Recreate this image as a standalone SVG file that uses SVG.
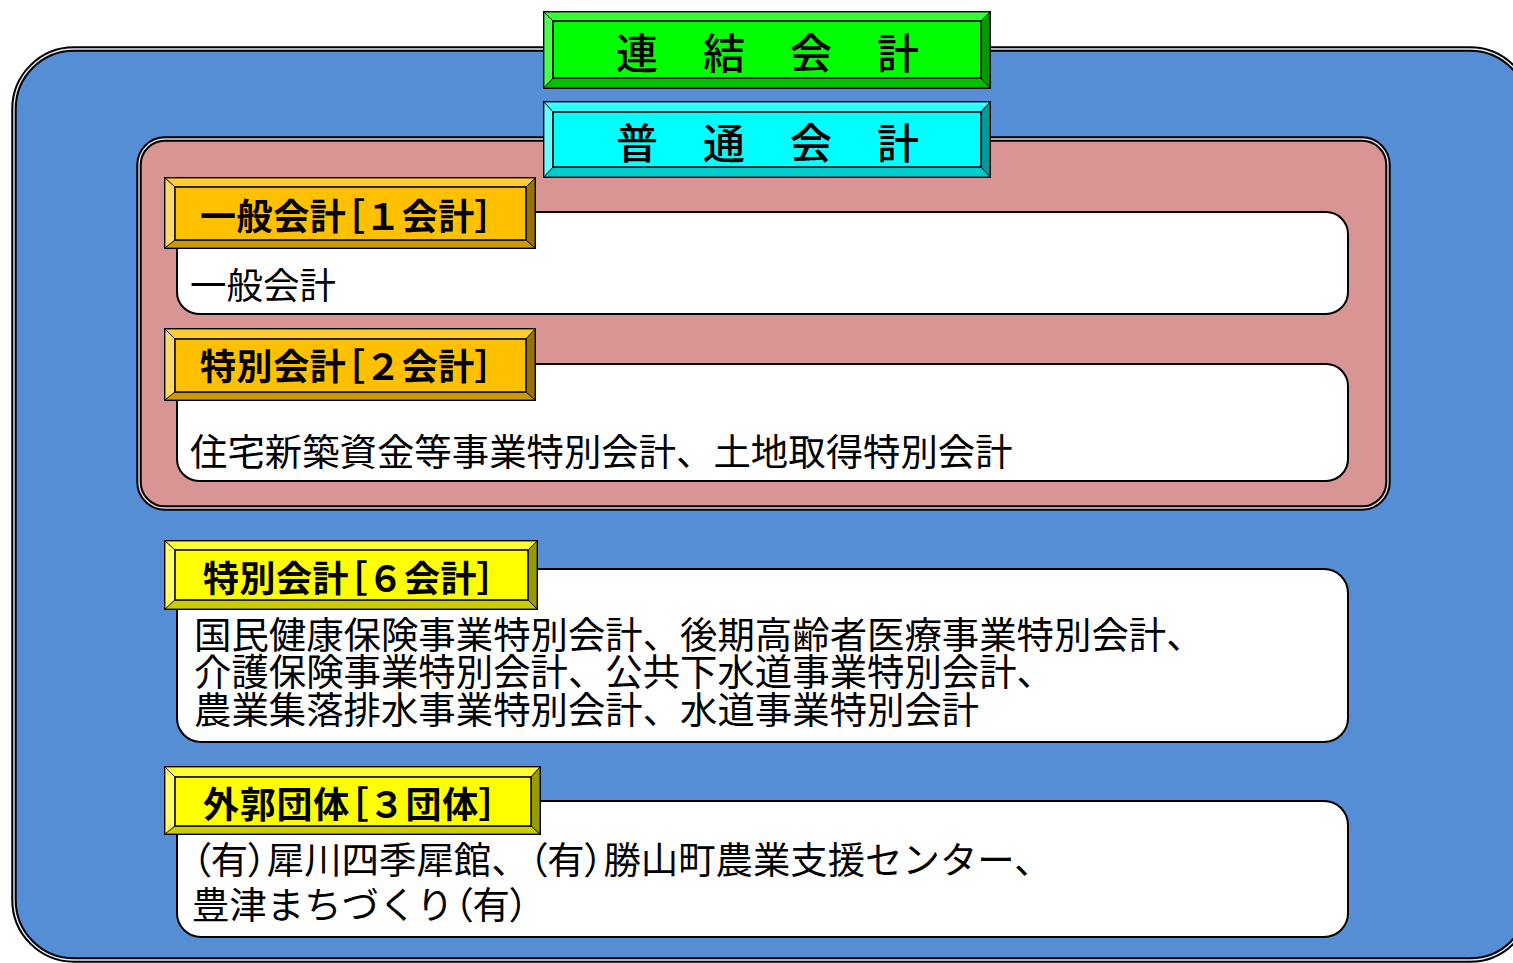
<svg xmlns="http://www.w3.org/2000/svg" width="1513" height="963" viewBox="0 0 1513 963">
<style>
.dbl{stroke:#000;stroke-width:5.5}
.dbl2{fill:none;stroke:#e4ecf7;stroke-width:1.4}
.wbox{fill:#fff;stroke:#000;stroke-width:2}
.outer{stroke:#000;stroke-width:2}
.inner{stroke:#000;stroke-width:1.5}
.bev{stroke:#000;stroke-width:0.8}
.hdr{font-family:"Noto Sans CJK JP","Noto Sans CJK SC",sans-serif;font-size:42px;font-weight:500;letter-spacing:1.5px;fill:#000}
.lbl{font-family:"Noto Sans CJK JP","Noto Sans CJK SC",sans-serif;font-size:36px;font-weight:700;fill:#000}
.txt{font-family:"Noto Sans CJK JP","Noto Sans CJK SC",sans-serif;font-size:37.4px;font-weight:400;fill:#000}
.p{font-feature-settings:"palt"}
</style>
<rect width="1513" height="963" fill="#fff"/>
<g id="consolidated">
<rect class="dbl" x="14" y="49" width="1516" height="911" rx="60" fill="#558ed5"/>
<rect class="dbl2" x="14" y="49" width="1516" height="911" rx="60"/>
</g>
<g id="general">
<rect class="dbl" x="139" y="139" width="1249" height="369" rx="26" fill="#d99594"/>
<rect class="dbl2" x="139" y="139" width="1249" height="369" rx="26" style="stroke:#f0d8d8"/>
</g>
<g id="box1">
<rect class="wbox" x="177" y="212" width="1171" height="102" rx="22"/>
<text class="txt" x="190" y="299" style="font-size:36.5px">一般会計</text>
</g>
<g id="box2">
<rect class="wbox" x="177" y="364" width="1171" height="117" rx="22"/>
<text class="txt" x="190" y="466">住宅新築資金等事業特別会計、土地取得特別会計</text>
</g>
<g id="box3">
<rect class="wbox" x="177" y="569" width="1171" height="173" rx="24"/>
<text class="txt" x="194" y="649">国民健康保険事業特別会計、後期高齢者医療事業特別会計、</text>
<text class="txt" x="194" y="686">介護保険事業特別会計、公共下水道事業特別会計、</text>
<text class="txt" x="194" y="724">農業集落排水事業特別会計、水道事業特別会計</text>
</g>
<g id="box4">
<rect class="wbox" x="177" y="801" width="1171" height="136" rx="24"/>
<text class="txt" x="192" y="874"><tspan class="p">（</tspan>有<tspan class="p">）</tspan>犀川四季犀館、<tspan class="p">（</tspan>有<tspan class="p">）</tspan>勝山町農業支援センター、</text>
<text class="txt" x="192" y="919">豊津まちづくり<tspan class="p">（</tspan>有<tspan class="p">）</tspan></text>
</g>
<g id="hdr-consolidated">
<rect class="outer" x="544" y="12" width="446" height="76" fill="#00ff00"/>
<polygon class="bev" points="544,12 990,12 981,21 553,21" fill="#33ff33"/>
<polygon class="bev" points="544,12 553,21 553,78 544,88" fill="#4dff4d"/>
<polygon class="bev" points="544,88 553,78 981,78 990,88" fill="#00c000"/>
<polygon class="bev" points="990,12 990,88 981,78 981,21" fill="#009900"/>
<rect class="inner" x="553" y="21" width="428" height="57" fill="#00ff00"/>
<text class="hdr" x="616" y="68.5">連　結　会　計</text>
</g>
<g id="hdr-ordinary">
<rect class="outer" x="544" y="102" width="446" height="75" fill="#00ffff"/>
<polygon class="bev" points="544,102 990,102 981,112 553,112" fill="#33ffff"/>
<polygon class="bev" points="544,102 553,112 553,167 544,177" fill="#66ffff"/>
<polygon class="bev" points="544,177 553,167 981,167 990,177" fill="#00cccc"/>
<polygon class="bev" points="990,102 990,177 981,167 981,112" fill="#009999"/>
<rect class="inner" x="553" y="112" width="428" height="55" fill="#00ffff"/>
<text class="hdr" x="616" y="158.5">普　通　会　計</text>
</g>
<g id="lbl-general">
<rect class="outer" x="165" y="178" width="370" height="70" fill="#ffc000"/>
<polygon class="bev" points="165,178 535,178 526,187 175,187" fill="#ffcc33"/>
<polygon class="bev" points="165,178 175,187 175,240 165,248" fill="#ffd966"/>
<polygon class="bev" points="165,248 175,240 526,240 535,248" fill="#cc9900"/>
<polygon class="bev" points="535,178 535,248 526,240 526,187" fill="#997300"/>
<rect class="inner" x="175" y="187" width="351" height="53" fill="#ffc000"/>
<text class="lbl" x="200" y="230" textLength="293" lengthAdjust="spacing">一般会計<tspan class="p">［</tspan>１会計<tspan class="p">］</tspan></text>
</g>
<g id="lbl-special2">
<rect class="outer" x="165" y="329" width="370" height="71" fill="#ffc000"/>
<polygon class="bev" points="165,329 535,329 526,339 175,339" fill="#ffcc33"/>
<polygon class="bev" points="165,329 175,339 175,392 165,400" fill="#ffd966"/>
<polygon class="bev" points="165,400 175,392 526,392 535,400" fill="#cc9900"/>
<polygon class="bev" points="535,329 535,400 526,392 526,339" fill="#997300"/>
<rect class="inner" x="175" y="339" width="351" height="53" fill="#ffc000"/>
<text class="lbl" x="200" y="380" textLength="293" lengthAdjust="spacing">特別会計<tspan class="p">［</tspan>２会計<tspan class="p">］</tspan></text>
</g>
<g id="lbl-special6">
<rect class="outer" x="165" y="541" width="372" height="68" fill="#ffff00"/>
<polygon class="bev" points="165,541 537,541 528,550 175,550" fill="#ffff33"/>
<polygon class="bev" points="165,541 175,550 175,600 165,609" fill="#ffff66"/>
<polygon class="bev" points="165,609 175,600 528,600 537,609" fill="#cccc00"/>
<polygon class="bev" points="537,541 537,609 528,600 528,550" fill="#999900"/>
<rect class="inner" x="175" y="550" width="353" height="50" fill="#ffff00"/>
<text class="lbl" x="203" y="592" textLength="292" lengthAdjust="spacing">特別会計<tspan class="p">［</tspan>６会計<tspan class="p">］</tspan></text>
</g>
<g id="lbl-external">
<rect class="outer" x="165" y="767" width="375" height="67" fill="#ffff00"/>
<polygon class="bev" points="165,767 540,767 531,777 175,777" fill="#ffff33"/>
<polygon class="bev" points="165,767 175,777 175,826 165,834" fill="#ffff66"/>
<polygon class="bev" points="165,834 175,826 531,826 540,834" fill="#cccc00"/>
<polygon class="bev" points="540,767 540,834 531,826 531,777" fill="#999900"/>
<rect class="inner" x="175" y="777" width="356" height="49" fill="#ffff00"/>
<text class="lbl" x="203" y="818" textLength="294" lengthAdjust="spacing">外郭団体<tspan class="p">［</tspan>３団体<tspan class="p">］</tspan></text>
</g>
<g id="connectors"></g>
</svg>
